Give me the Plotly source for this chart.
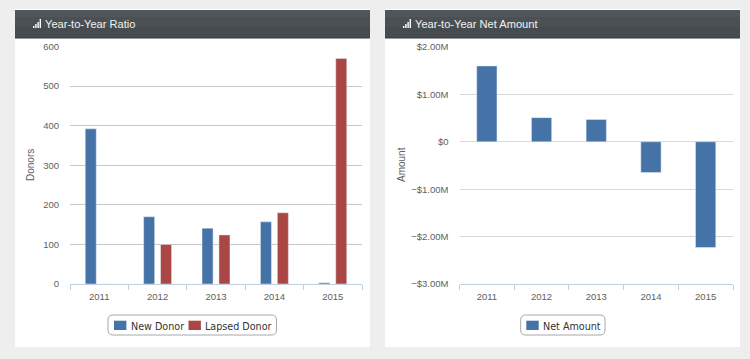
import plotly.graph_objects as go

years = ["2011", "2012", "2013", "2014", "2015"]
new_donor = [392, 170, 141, 157, 3]
lapsed_donor = [0, 100, 124, 180, 570]
net_amount = [1.60, 0.51, 0.47, -0.65, -2.23]
left_ticks = [0, 100, 200, 300, 400, 500, 600]
right_ticks = [2, 1, 0, -1, -2, -3]
right_labels = ["$2.00M", "$1.00M", "$0", "−$1.00M", "−$2.00M", "−$3.00M"]

W, H = 750, 359
BLUE, RED = "#4572a7", "#aa4643"
TXT = "#606060"
FONT = "Liberation Sans"

def px(x): return x / W
def py(y): return 1 - y / H

fig = go.Figure()
fig.add_trace(go.Bar(x=years, y=new_donor, name="New Donor", marker_color=BLUE, xaxis="x", yaxis="y", showlegend=False))
fig.add_trace(go.Bar(x=years, y=lapsed_donor, name="Lapsed Donor", marker_color=RED, xaxis="x", yaxis="y", showlegend=False))
fig.add_trace(go.Bar(x=years, y=net_amount, name="Net Amount", marker_color=BLUE, xaxis="x2", yaxis="y2", width=0.37, showlegend=False))

shapes, annotations = [], []
def rect(x0, y0, x1, y1, color, layer="below"):
    shapes.append(dict(type="rect", xref="paper", yref="paper", x0=px(x0), x1=px(x1), y0=py(y1), y1=py(y0),
                       fillcolor=color, line_width=0, layer=layer))

def label(x, y, text, size, color, family=FONT, anchor="left", angle=0):
    annotations.append(dict(text=text, xref="paper", yref="paper", x=px(x), y=py(y), xanchor=anchor,
                            yanchor="middle", showarrow=False, borderpad=0, borderwidth=0, textangle=angle,
                            font=dict(family=family, size=size, color=color)))

for x0, x1, title in [(15, 370, "Year-to-Year Ratio"), (385, 740, "Year-to-Year Net Amount")]:
    rect(x0, 9, x1, 347, "#ffffff")
    rect(x0, 10, x1, 38, "#454b4e")
    rect(x0, 10, x1, 17, "#50565a")
    rect(x0, 17, x1, 27, "#4a5053")
    rect(x0, 37.5, x1, 38.5, "#33383a")
    for i, h in enumerate([2, 4, 6, 9]):
        rect(x0 + 18 + i * 2.2, 28 - h, x0 + 19.4 + i * 2.2, 28, "#ffffff")
    label(x0 + 30, 24.5, title, 11.1, "#f2f2f2")

def box_shape(x0, y0, x1, y1, r=5):
    a, b, c, d = px(x0), px(x1), py(y0), py(y1)
    rx, ry = r / W, r / H
    path = (f"M{a+rx},{c} L{b-rx},{c} Q{b},{c} {b},{c-ry} L{b},{d+ry} Q{b},{d} {b-rx},{d} "
            f"L{a+rx},{d} Q{a},{d} {a},{d+ry} L{a},{c-ry} Q{a},{c} {a+rx},{c} Z")
    return dict(type="path", xref="paper", yref="paper", path=path, line=dict(color="#a8a8a8", width=1), layer="below")

shapes.append(box_shape(108, 315, 276.5, 335))
shapes.append(box_shape(520.7, 315, 605, 335))
for sx, tx, text, color in [(114, 130.5, "New Donor", BLUE), (188.5, 205, "Lapsed Donor", RED), (526.3, 542.7, "Net Amount", BLUE)]:
    rect(sx, 320.7, sx + 12.4, 330, color)
    label(tx, 326, text, 9.6, "#333333", family="DejaVu Sans")

label(31, 165, "Donors", 10, TXT, anchor="center", angle=-90)
label(402, 165, "Amount", 10, TXT, anchor="center", angle=-90)

axis_x = dict(type="category", tickson="boundaries", ticks="outside", ticklen=5, tickcolor="#c0d0e0",
              showline=True, linecolor="#c0d0e0", showgrid=False, automargin=False, ticklabelstandoff=4,
              tickfont=dict(size=9.5, color=TXT))

fig.update_layout(
    width=W, height=H, margin=dict(l=0, r=0, t=0, b=0), autosize=False,
    paper_bgcolor="#eeeeee", plot_bgcolor="rgba(0,0,0,0)",
    barmode="group", bargap=0.42, bargroupgap=0.35,
    font=dict(family=FONT, size=9.5, color=TXT),
    xaxis=dict(domain=[px(70), px(362)], anchor="y", **axis_x),
    yaxis=dict(domain=[py(284), py(46.5)], anchor="x", range=[0, 600], tickvals=left_ticks, showgrid=True,
               gridcolor="#c8c8c8", zeroline=False, ticks="", showline=False, ticklabelstandoff=10, automargin=False,
               tickfont=dict(size=9.5, color=TXT)),
    xaxis2=dict(domain=[px(459.5), px(733)], anchor="y2", **axis_x),
    yaxis2=dict(domain=[py(284), py(47)], anchor="x2", range=[-3, 2], tickvals=right_ticks, ticktext=right_labels,
                showgrid=True, gridcolor="#d8d8d8", zeroline=False, ticks="", showline=False, ticklabelstandoff=10, automargin=False,
                tickfont=dict(size=9.5, color=TXT)),
    annotations=annotations,
    shapes=shapes,
)

fig.write_html("out.html", config={"displayModeBar": False}, post_script="document.body.style.margin='0';")
